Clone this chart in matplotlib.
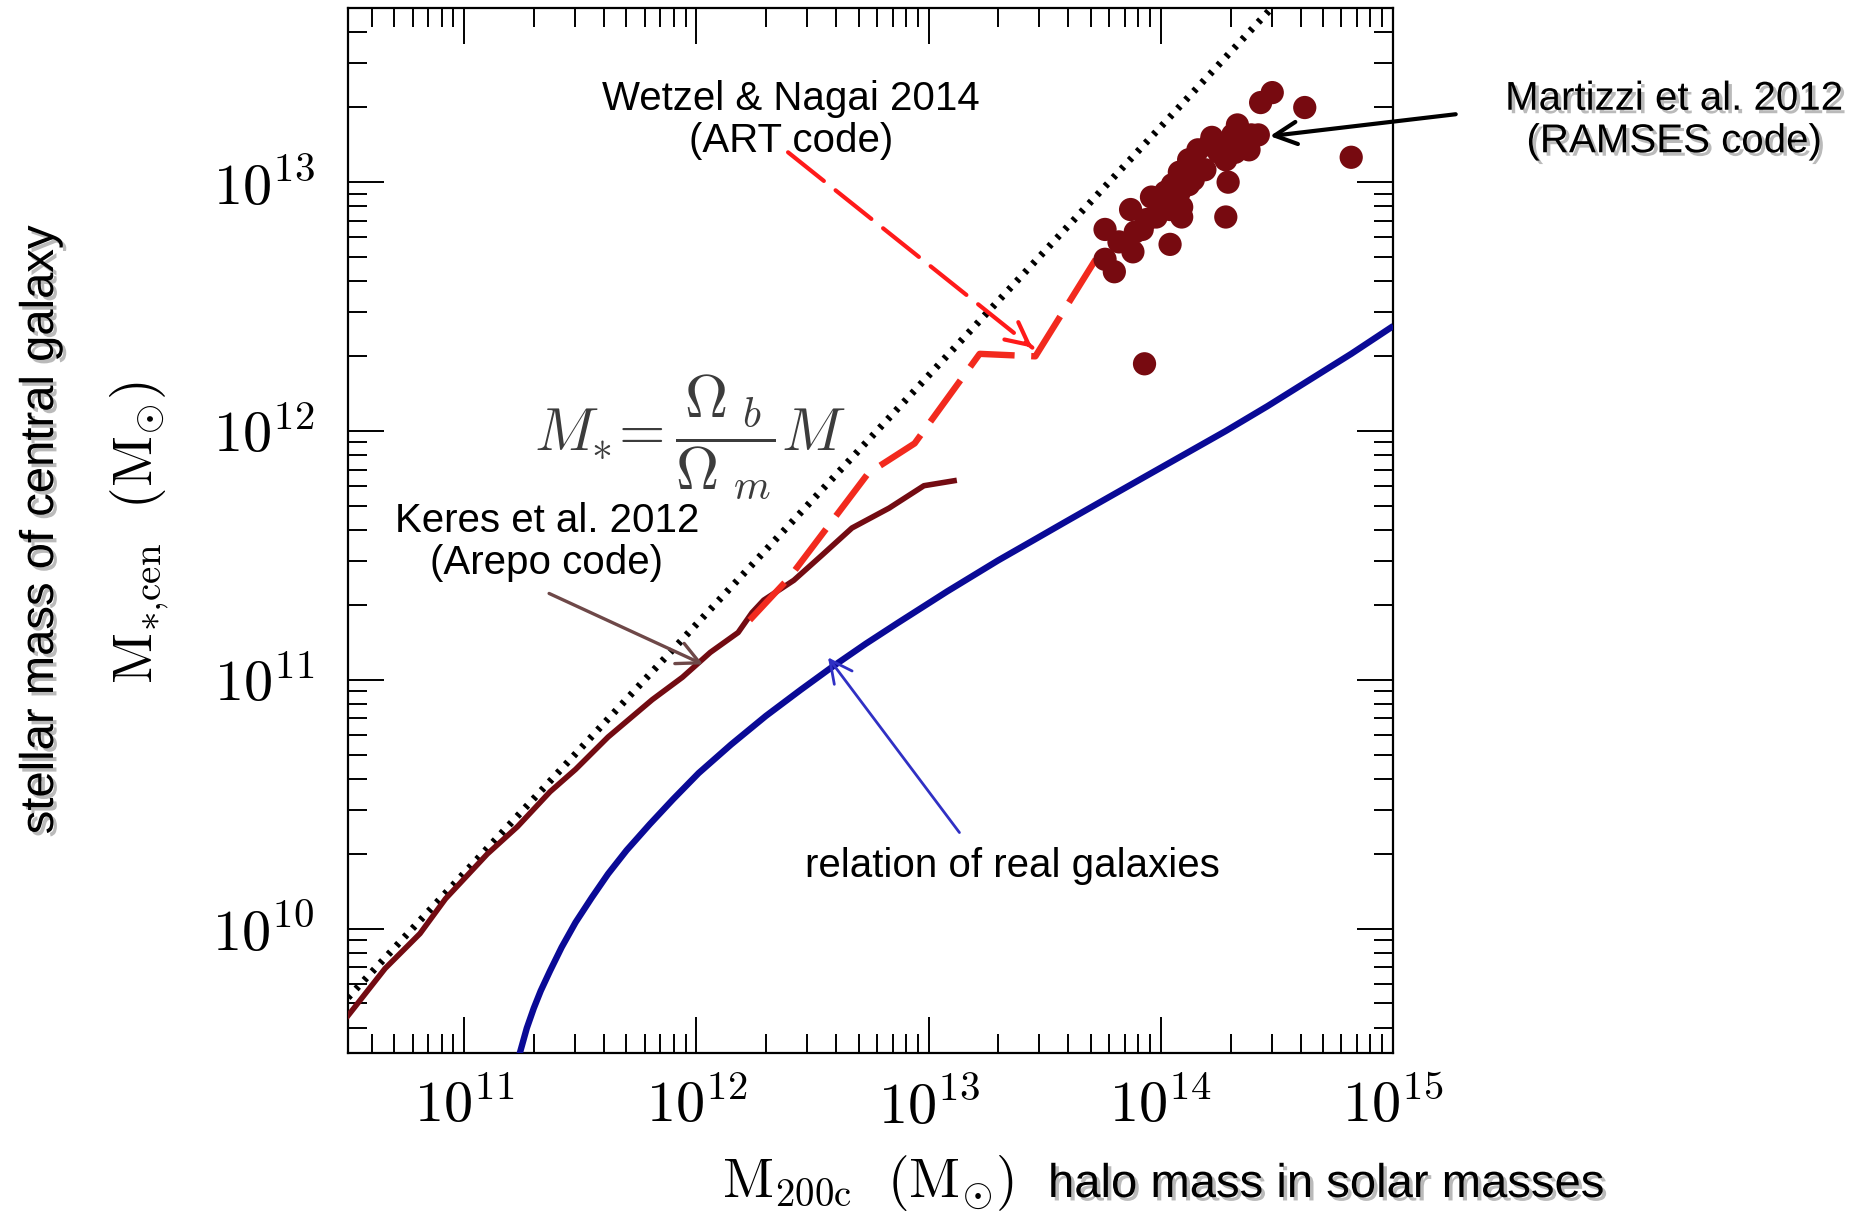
import matplotlib.pyplot as plt
import matplotlib.patheffects as pe
from matplotlib.ticker import LogLocator, NullFormatter
import numpy as np

plt.rcParams['mathtext.fontset'] = 'cm'
plt.rcParams['font.family'] = ['Liberation Sans', 'DejaVu Sans']

# Values, log10 of mass in solar masses.
keres_log_mhalo = [10.50, 10.66, 10.81, 10.92, 11.10, 11.23, 11.37, 11.48,
                   11.62, 11.81, 11.94, 12.00, 12.06, 12.12, 12.18, 12.24,
                   12.29, 12.42, 12.54, 12.67, 12.83, 12.98, 13.11]
keres_log_mstar = [9.65, 9.84, 9.98, 10.12, 10.30, 10.41, 10.55, 10.64,
                   10.77, 10.92, 11.01, 11.06, 11.11, 11.15, 11.19, 11.27,
                   11.32, 11.40, 11.50, 11.61, 11.69, 11.78, 11.80]

wetzel_log_mhalo = [12.23, 12.40, 12.57, 12.74, 12.94, 13.22, 13.46, 13.72]
wetzel_log_mstar = [11.24, 11.41, 11.62, 11.83, 11.95, 12.31, 12.30, 12.69]

real_log_mhalo = [11.24, 11.27, 11.30, 11.33, 11.37, 11.42, 11.48, 11.55,
                  11.62, 11.70, 11.80, 11.90, 12.01, 12.15, 12.30, 12.45,
                  12.59, 12.73, 12.87, 13.08, 13.30, 13.45, 13.59, 13.75,
                  13.92, 14.10, 14.28, 14.46, 14.64, 14.82, 14.99]
real_log_mstar = [9.50, 9.60, 9.68, 9.75, 9.83, 9.925, 10.025, 10.125,
                  10.22, 10.315, 10.42, 10.52, 10.625, 10.74, 10.855, 10.96,
                  11.055, 11.145, 11.23, 11.355, 11.48, 11.56, 11.635, 11.72,
                  11.81, 11.905, 12.00, 12.10, 12.205, 12.31, 12.415]

martizzi_log_mhalo = [14.48, 14.43, 14.62, 14.33, 14.42, 14.82, 14.29, 14.28,
                      13.93, 14.04, 14.09, 13.87, 13.76, 13.76, 13.80, 13.88,
                      13.82, 13.92, 13.96, 14.01, 14.05, 14.08, 14.12, 14.16,
                      14.22, 14.26, 14.32, 14.37, 14.39, 14.28, 14.19, 14.14,
                      14.08, 14.04, 13.98, 14.12, 14.06, 14.02, 14.38, 14.15,
                      14.25, 14.31, 14.21, 13.94, 13.89, 14.09, 14.34]
martizzi_log_mstar = [13.36, 13.32, 13.30, 13.23, 13.19, 13.10, 13.00, 12.86,
                      12.27, 12.75, 12.86, 12.89, 12.81, 12.69, 12.64, 12.72,
                      12.76, 12.81, 12.94, 12.90, 12.99, 13.04, 13.09, 13.13,
                      13.18, 13.15, 13.12, 13.16, 13.19, 13.09, 13.05, 13.01,
                      12.96, 12.89, 12.86, 12.99, 12.92, 12.96, 13.13, 13.05,
                      13.12, 13.19, 13.15, 12.85, 12.80, 12.90, 13.16]

# M* = (Omega_b / Omega_m) M
baryon_fraction = 0.167
omega_log_mhalo = [10.5, 15.0]

xticks = [1e11, 1e12, 1e13, 1e14, 1e15]
xtick_labels = [r'$10^{11}$', r'$10^{12}$', r'$10^{13}$', r'$10^{14}$',
                r'$10^{15}$']
yticks = [1e10, 1e11, 1e12, 1e13]
ytick_labels = [r'$10^{10}$', r'$10^{11}$', r'$10^{12}$', r'$10^{13}$']


def lg(a):
    return np.power(10.0, np.asarray(a, dtype=float))


W, H = 1866, 1217


def px(x, y):
    """pixel position in the figure -> figure fraction"""
    return x / W, 1 - y / H


fig = plt.figure(figsize=(W / 100, H / 100), dpi=100)
ax = fig.add_axes([348 / W, 1 - 1053 / H, (1393 - 348) / W, (1053 - 8) / H])
ax.set_xscale('log')
ax.set_yscale('log')
ax.set_xlim(10 ** 10.5, 1e15)
ax.set_ylim(10 ** 9.5, 10 ** 13.7)

m = lg(omega_log_mhalo)
ax.plot(m, baryon_fraction * m, color='black', lw=5.0, dashes=(0.5, 1.2),
        zorder=2)
ax.plot(lg(keres_log_mhalo), lg(keres_log_mstar), color='#730b12', lw=4.0,
        solid_joinstyle='round', zorder=3)
ax.plot(lg(wetzel_log_mhalo), lg(wetzel_log_mstar), color='#f22a1e', lw=4.6,
        dashes=(8, 2.6), zorder=3)
ax.plot(lg(real_log_mhalo), lg(real_log_mstar), color='#0a0a96', lw=4.6,
        zorder=3)
ax.scatter(lg(martizzi_log_mhalo), lg(martizzi_log_mstar), s=280,
           color='#770a10', edgecolors='none', zorder=4)

# ticks and frame
ax.xaxis.set_minor_locator(LogLocator(base=10, subs=np.arange(2, 10), numticks=30))
ax.yaxis.set_minor_locator(LogLocator(base=10, subs=np.arange(2, 10), numticks=30))
ax.set_xticks(xticks, xtick_labels)
ax.set_yticks(yticks, ytick_labels)
ax.xaxis.set_minor_formatter(NullFormatter())
ax.yaxis.set_minor_formatter(NullFormatter())
ax.tick_params(which='both', direction='in', top=True, right=True, width=1.4)
ax.tick_params(which='major', length=26)
ax.tick_params(which='minor', length=13.5)
ax.tick_params(axis='x', which='major', pad=19, labelsize=42)
ax.tick_params(axis='y', which='major', pad=24, labelsize=42)
for s in ax.spines.values():
    s.set_linewidth(1.6)


# arrows (end points in data coordinates, log10)
def arrow(start, tip, color, lw, dashes=None):
    a = lg(start)
    b = lg(tip)
    if dashes is None:
        ax.annotate('', xy=b, xytext=a, xycoords='data',
                    arrowprops=dict(arrowstyle='->', color=color, lw=lw,
                                    mutation_scale=40, shrinkA=0, shrinkB=0),
                    annotation_clip=False, zorder=5)
    else:
        ax.annotate('', xy=b, xytext=a, xycoords='data',
                    arrowprops=dict(arrowstyle='-', color=color, lw=lw,
                                    linestyle=(0, dashes), shrinkA=0,
                                    shrinkB=0),
                    annotation_clip=False, zorder=5)
        near = [tip[0] - 0.02 * (tip[0] - start[0]),
                tip[1] - 0.02 * (tip[1] - start[1])]
        ax.annotate('', xy=b, xytext=lg(near), xycoords='data',
                    arrowprops=dict(arrowstyle='->', color=color, lw=lw,
                                    mutation_scale=40, shrinkA=0, shrinkB=0),
                    annotation_clip=False, zorder=5)


arrow([12.395, 13.12], [13.447, 12.335], '#ff1a1a', 3.0, dashes=(11, 3.6))
arrow([15.27, 13.273], [14.47, 13.185], 'black', 3.0)
arrow([11.366, 11.347], [12.029, 11.062], '#6e4848', 2.4)
arrow([13.133, 10.386], [12.567, 11.09], '#3030c4', 2.0)

shadow = [pe.SimplePatchShadow(offset=(2.5, -2.5), shadow_rgbFace='0.55',
                               alpha=0.6), pe.Normal()]

fig.text(*px(791, 120), 'Wetzel & Nagai 2014\n(ART code)', fontsize=29,
         ha='center', va='center', multialignment='center', linespacing=1.15)
fig.text(*px(1674, 120), 'Martizzi et al. 2012\n(RAMSES code)', fontsize=29,
         ha='center', va='center', multialignment='center', linespacing=1.15,
         path_effects=shadow)
fig.text(*px(547, 542), 'Keres et al. 2012\n(Arepo code)', fontsize=29,
         ha='center', va='center', multialignment='center', linespacing=1.15)
fig.text(*px(1012, 866), 'relation of real galaxies', fontsize=29,
         ha='center', va='center')

fig.text(*px(690, 437), r'$M_{*}\!=\dfrac{\Omega_{\ b}}{\Omega_{\ m}}M$',
         fontsize=43, color='#3c3c3c', ha='center', va='center')

fig.text(*px(41, 530), 'stellar mass of central galaxy', rotation=90,
         fontsize=34, ha='center', va='center', path_effects=shadow)
fig.text(*px(140, 533), r'$\mathrm{M_{*{,}cen}}\ \ (\mathrm{M_{\odot}})$',
         rotation=90, fontsize=40, ha='center', va='center')
fig.text(*px(868, 1197), r'$\mathrm{M_{200c}}\ \ (\mathrm{M_{\odot}})$',
         fontsize=40, ha='center', va='baseline')
fig.text(*px(1048, 1197), 'halo mass in solar masses', fontsize=34,
         ha='left', va='baseline', path_effects=shadow)

fig.savefig('out.png', dpi=100)
